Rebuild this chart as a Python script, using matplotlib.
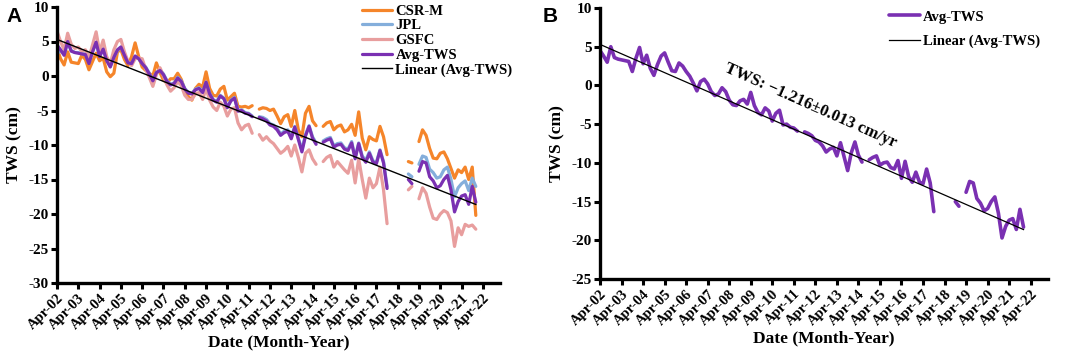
import numpy as np
import pandas as pd
import matplotlib
matplotlib.use("Agg")
import matplotlib.pyplot as plt

nan = np.nan

# ---------------- data (bimonthly, starting Apr 2002) ----------------
start_date = "2002-04-01"
n_points = 119

avg_tws = [
    4.5, 3.8, 3.0, 5.0, 3.6, 3.4, 3.3, 3.2, 3.1, 1.8,
    3.5, 4.9, 2.8, 3.9, 2.2, 1.3, 2.7, 3.8, 4.2, 3.0,
    1.9, 1.8, 2.9, 2.5, 1.8, 1.2, 0.3, -0.7, 0.5, 0.8,
    0.2, -0.8, -1.3, -1.1, -0.3, -0.8, -1.9, -2.5, -2.6, -2.0,
    -1.8, -2.4, -0.9, -2.6, -3.5, -3.8, -2.9, -3.3, -4.6, -3.6,
    -3.2, -5.1, -5.0, -5.4, -5.5, -5.9, nan, -6.0, -6.2, -6.5,
    -7.1, -7.3, -7.8, -8.6, -8.2, -8.0, -9.1, -7.4, -9.2, -11.0,
    -8.7, -7.3, -9.0, -9.9, nan, -9.6, -9.3, -9.1, -10.3, -10.0,
    -9.9, -10.6, -10.8, -9.7, -12.0, -9.8, -11.8, -12.5, -11.2, -12.5,
    -12.7, -10.8, -12.6, -16.3, nan, nan, nan, nan, nan, -15.0,
    -15.6, nan, -13.8, -12.4, -12.6, -14.6, -15.2, -16.2, -15.9, -15.0,
    -14.4, -16.5, -19.7, -18.2, -17.4, -17.2, -18.6, -16.0, -18.3,
]

csr_m = [
    4.0, 2.5, 1.6, 3.5, 2.0, 1.9, 1.8, 3.0, 2.4, 0.9,
    2.1, 3.3, 2.2, 2.6, 0.6, -0.1, 0.4, 3.5, 3.8, 2.4,
    1.5, 2.8, 4.8, 2.8, 1.3, 0.8, 0.4, 0.0, 1.9, 0.5,
    -0.6, -1.0, -0.4, -0.4, 0.4, -0.5, -2.0, -3.0, -3.5, -1.8,
    -1.2, -1.6, 0.6, -1.8, -2.8, -2.9, -1.9, -1.5, -3.5, -3.0,
    -2.5, -4.4, -4.5, -4.4, -4.6, -4.3, nan, -4.8, -4.6, -4.7,
    -5.0, -4.8, -5.8, -6.9, -5.9, -5.6, -7.3, -5.0, -7.8, -8.8,
    -5.4, -4.4, -6.5, -7.2, nan, -7.3, -6.8, -6.6, -7.8, -7.3,
    -7.1, -8.1, -7.8, -7.0, -8.6, -5.2, -9.0, -10.7, -8.8, -9.2,
    -9.4, -7.3, -8.8, -11.4, nan, nan, nan, nan, nan, -12.4,
    -12.6, nan, -9.5, -7.8, -8.6, -10.5, -11.9, -12.0, -11.2, -11.0,
    -12.0, -13.4, -14.8, -13.6, -14.0, -13.2, -15.0, -13.2, -20.2,
]

jpl = [
    3.2, 3.7, 3.1, 4.9, 3.7, 3.4, 3.4, 3.2, 3.2, 1.9,
    3.5, 4.8, 2.9, 3.9, 2.3, 1.4, 2.7, 3.7, 4.2, 3.1,
    2.0, 1.8, 2.8, 2.5, 1.8, 1.3, 0.4, -0.6, 0.5, 0.9,
    0.3, -0.7, -1.2, -1.0, -0.2, -0.7, -1.8, -2.4, -2.5, -1.9,
    -1.7, -2.3, -0.9, -2.5, -3.4, -3.7, -2.8, -3.2, -4.5, -3.5,
    -3.1, -5.0, -4.9, -5.3, -5.4, -5.8, nan, -5.9, -6.0, -6.3,
    -6.9, -7.1, -7.6, -8.4, -8.0, -7.8, -8.9, -7.3, -9.0, -10.7,
    -8.5, -7.2, -8.8, -9.7, nan, -9.4, -9.1, -8.9, -10.1, -9.8,
    -9.7, -10.4, -10.6, -9.5, -11.8, -9.7, -11.6, -12.2, -11.0, -12.3,
    -12.5, -10.7, -12.4, -16.0, nan, nan, nan, nan, nan, -14.2,
    -14.6, nan, -12.8, -11.6, -11.8, -13.5, -14.0, -14.8, -14.6, -13.6,
    -13.2, -15.0, -17.5, -16.2, -15.6, -15.2, -16.6, -14.8, -16.0,
]

gsfc = [
    6.5, 5.0, 3.8, 6.2, 4.6, 4.0, 4.2, 3.6, 3.8, 2.6,
    4.5, 6.4, 3.5, 5.2, 2.8, 1.8, 3.8, 5.0, 5.3, 3.5,
    2.1, 1.5, 2.5, 2.6, 2.5, 1.0, -0.2, -1.5, 0.2, 1.2,
    0.0, -1.3, -2.2, -1.7, -0.8, -1.4, -2.8, -3.4, -3.4, -2.6,
    -2.4, -3.4, -1.8, -3.5, -4.5, -5.0, -3.8, -4.4, -5.8, -4.8,
    -4.6, -6.8, -7.8, -7.2, -7.0, -8.3, nan, -8.5, -9.3, -8.8,
    -9.4, -9.8, -10.5, -11.2, -10.8, -10.2, -11.6, -10.0, -11.8, -13.9,
    -11.2, -10.7, -12.0, -12.8, nan, -12.4, -11.8, -11.5, -13.2, -12.4,
    -13.0, -13.6, -14.1, -12.2, -15.5, -12.0, -15.0, -17.7, -14.8, -16.2,
    -15.6, -13.2, -16.5, -21.4, nan, nan, nan, nan, nan, -16.5,
    -16.0, nan, -17.8, -16.2, -17.0, -19.0, -20.6, -20.8, -20.0, -19.5,
    -19.8, -21.0, -24.7, -22.0, -23.0, -21.5, -21.8, -21.6, -22.2,
]

trend_intercept = 5.3      # cm at Apr-2002
trend_slope = -1.216       # cm / yr
trend_text = "TWS: \u22121.216\u00b10.013 cm/yr"

tick_years = list(range(2002, 2023))
tick_labels = [f"Apr-{y % 100:02d}" for y in tick_years]

series_a = [
    ("CSR-M", csr_m, "#F5852A"),
    ("JPL", jpl, "#84AEDB"),
    ("GSFC", gsfc, "#E89E9E"),
    ("Avg-TWS", avg_tws, "#7A30B2"),
]

# ---------------- figure ----------------
dates = pd.date_range(start_date, periods=n_points, freq="2MS")
t0 = pd.Timestamp(start_date)
trend_dates = pd.DatetimeIndex([dates[0], dates[-1]])
trend_years = (trend_dates - t0).days / 365.25
trend_vals = trend_intercept + trend_slope * np.asarray(trend_years)

serif = "Liberation Serif"
plt.rcParams["font.family"] = [serif, "DejaVu Serif"]

fig = plt.figure(figsize=(10.65, 3.56), dpi=100)
axA = fig.add_axes([57 / 1065, 1 - 283 / 356, 443 / 1065, 276 / 356])
axB = fig.add_axes([600 / 1065, 1 - 279 / 356, 448 / 1065, 271 / 356])

tick_pos = [pd.Timestamp(f"{y}-04-01") for y in tick_years]
xmin = pd.Timestamp("2002-04-01")
xmax = pd.Timestamp("2023-01-20")


def style_axis(ax, ylo, yhi):
    for s in ["top", "right"]:
        ax.spines[s].set_visible(False)
    for s in ["left", "bottom"]:
        ax.spines[s].set_linewidth(2.4)
        ax.spines[s].set_color("black")
    ax.set_xlim(xmin, xmax)
    ax.set_ylim(ylo, yhi)
    ax.set_yticks(np.arange(ylo, yhi + 1, 5))
    ax.set_yticklabels([f"{v:d}" for v in np.arange(ylo, yhi + 1, 5)],
                       fontsize=11, fontweight="bold")
    ax.set_xticks(tick_pos)
    ax.set_xticklabels(tick_labels, rotation=45, ha="right",
                       rotation_mode="anchor", fontsize=10.5, fontweight="bold")
    ax.tick_params(axis="both", direction="out", length=4, width=2.2,
                   colors="black", pad=2)
    ax.set_xlabel("Date (Month-Year)", fontsize=12.5, fontweight="bold",
                  labelpad=2)
    ax.set_ylabel("TWS (cm)", fontsize=12.5, fontweight="bold", labelpad=4)


# Panel A
for name, vals, col in series_a:
    axA.plot(dates, np.array(vals, dtype=float), color=col, lw=2.3,
             label=name, solid_capstyle="round", solid_joinstyle="round")
axA.plot(trend_dates, trend_vals, color="black", lw=1.0,
         label="Linear (Avg-TWS)")
style_axis(axA, -30, 10)
axA.legend(loc="upper left", bbox_to_anchor=(0.675, 1.03), frameon=False,
           prop={"family": serif, "weight": "bold", "size": 10.5},
           handlelength=2.1, handletextpad=0.2, labelspacing=0.1,
           borderaxespad=0)

# Panel B
axB.plot(dates, np.array(avg_tws, dtype=float), color="#7A30B2", lw=2.6,
         label="Avg-TWS", solid_capstyle="round", solid_joinstyle="round")
axB.plot(trend_dates, trend_vals, color="black", lw=0.9,
         label="Linear (Avg-TWS)")
style_axis(axB, -25, 10)
axB.legend(loc="upper left", bbox_to_anchor=(0.633, 1.013), frameon=False,
           prop={"family": serif, "weight": "bold", "size": 10.5},
           handlelength=2.1, handletextpad=0.2, labelspacing=0.75,
           borderaxespad=0)
axB.text(0.47, 0.64, trend_text, transform=axB.transAxes, rotation=-24,
         ha="center", va="center", fontsize=12, fontweight="bold",
         rotation_mode="anchor")

fig.text(6 / 1065, 1 - 17 / 356, "A", fontsize=15, fontweight="bold",
         family="Liberation Sans", va="center", ha="left")
fig.text(543 / 1065, 1 - 17 / 356, "B", fontsize=15, fontweight="bold",
         family="Liberation Sans", va="center", ha="left")

fig.savefig("out.png", dpi=100)
